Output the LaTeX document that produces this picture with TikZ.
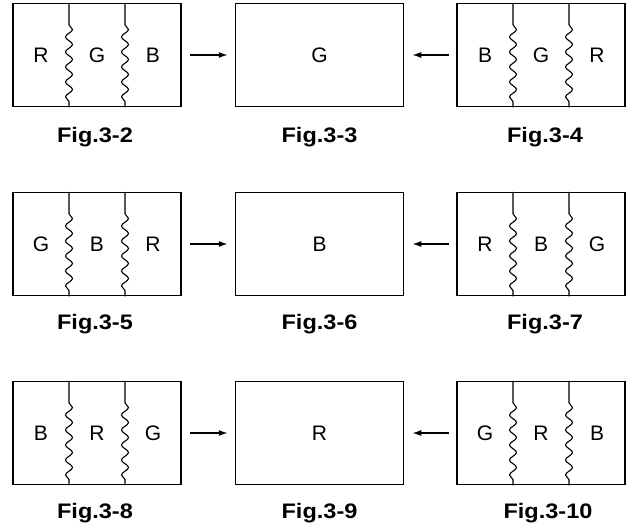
\documentclass[tikz,border=0pt]{standalone}
\usepackage{fontspec}
\setmainfont{Liberation Sans}
\newfontfamily\figfont{Liberation Sans}[FakeStretch=1.12]
\usetikzlibrary{arrows.meta,decorations.pathmorphing}

\tikzset{
  panel/.style={draw,line width=1.5pt,minimum width=168pt,minimum height=103pt,inner sep=0pt},
  band/.style={font=\fontsize{21}{24}\selectfont},
  caption/.style={font=\figfont\bfseries\fontsize{21}{24}\selectfont},
  wavy/.style={line width=1.1pt,decorate,decoration={snake,segment length=15pt,amplitude=3.5pt,pre length=22pt,post length=3pt}},
  feed/.style={line width=1.4pt,-{Latex[length=9pt,width=6pt]}}
}

\begin{document}
\begin{tikzpicture}[x=1pt,y=-1pt]
        \useasboundingbox (0,0) rectangle (626,528);

        % Draw panels
        % Draw panels explicitly
        \node[panel] (p2) at (97,55) {};
        \node[panel] (p3) at (319.5,55) {};
        \node[panel] (p4) at (541,55) {};
        \node[panel] (p5) at (97,244) {};
        \node[panel] (p6) at (319.5,244) {};
        \node[panel] (p7) at (541,244) {};
        \node[panel] (p8) at (97,433) {};
        \node[panel] (p9) at (319.5,433) {};
        \node[panel] (p10) at (541,433) {};

        % Draw wavy borders between bands
        \draw[wavy] ([xshift=-28pt]p2.north) -- ([xshift=-28pt]p2.south);
        \draw[wavy] ([xshift=28pt]p2.north) -- ([xshift=28pt]p2.south);
        \draw[wavy] ([xshift=-28pt]p4.north) -- ([xshift=-28pt]p4.south);
        \draw[wavy] ([xshift=28pt]p4.north) -- ([xshift=28pt]p4.south);
        \draw[wavy] ([xshift=-28pt]p5.north) -- ([xshift=-28pt]p5.south);
        \draw[wavy] ([xshift=28pt]p5.north) -- ([xshift=28pt]p5.south);
        \draw[wavy] ([xshift=-28pt]p7.north) -- ([xshift=-28pt]p7.south);
        \draw[wavy] ([xshift=28pt]p7.north) -- ([xshift=28pt]p7.south);
        \draw[wavy] ([xshift=-28pt]p8.north) -- ([xshift=-28pt]p8.south);
        \draw[wavy] ([xshift=28pt]p8.north) -- ([xshift=28pt]p8.south);
        \draw[wavy] ([xshift=-28pt]p10.north) -- ([xshift=-28pt]p10.south);
        \draw[wavy] ([xshift=28pt]p10.north) -- ([xshift=28pt]p10.south);

        % Draw band letters
        \node[band] (p2a) at (41,55) {R};
        \node[band] (p2b) at (97,55) {G};
        \node[band] (p2c) at (153,55) {B};
        \node[band] (p3a) at (319.5,55) {G};
        \node[band] (p4a) at (485,55) {B};
        \node[band] (p4b) at (541,55) {G};
        \node[band] (p4c) at (597,55) {R};
        \node[band] (p5a) at (41,244) {G};
        \node[band] (p5b) at (97,244) {B};
        \node[band] (p5c) at (153,244) {R};
        \node[band] (p6a) at (319.5,244) {B};
        \node[band] (p7a) at (485,244) {R};
        \node[band] (p7b) at (541,244) {B};
        \node[band] (p7c) at (597,244) {G};
        \node[band] (p8a) at (41,433) {B};
        \node[band] (p8b) at (97,433) {R};
        \node[band] (p8c) at (153,433) {G};
        \node[band] (p9a) at (319.5,433) {R};
        \node[band] (p10a) at (485,433) {G};
        \node[band] (p10b) at (541,433) {R};
        \node[band] (p10c) at (597,433) {B};

        % Draw captions
        \node[caption] (c2) at (95,137) {Fig.3-2};
        \node[caption] (c3) at (319.5,137) {Fig.3-3};
        \node[caption] (c4) at (545,137) {Fig.3-4};
        \node[caption] (c5) at (95,324) {Fig.3-5};
        \node[caption] (c6) at (319.5,324) {Fig.3-6};
        \node[caption] (c7) at (545,324) {Fig.3-7};
        \node[caption] (c8) at (95,513) {Fig.3-8};
        \node[caption] (c9) at (319.5,513) {Fig.3-9};
        \node[caption] (c10) at (548,513) {Fig.3-10};

        % Draw arrows into the middle panels
        \draw[feed,shorten <=8pt,shorten >=7pt] (p2.east) -- (p3.west);
        \draw[feed,shorten <=7pt,shorten >=8pt] (p4.west) -- (p3.east);
        \draw[feed,shorten <=8pt,shorten >=7pt] (p5.east) -- (p6.west);
        \draw[feed,shorten <=7pt,shorten >=8pt] (p7.west) -- (p6.east);
        \draw[feed,shorten <=8pt,shorten >=7pt] (p8.east) -- (p9.west);
        \draw[feed,shorten <=7pt,shorten >=8pt] (p10.west) -- (p9.east);
    \end{tikzpicture}
\end{document}
